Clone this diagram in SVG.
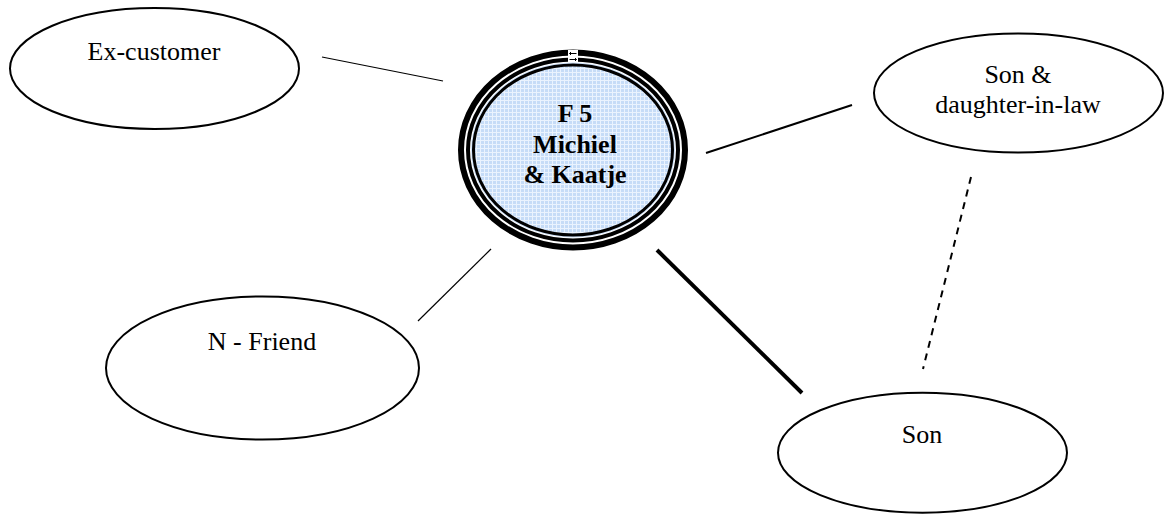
<svg xmlns="http://www.w3.org/2000/svg" width="1173" height="516" viewBox="0 0 1173 516">
  <defs>
    <!-- fine light-blue grid used as the fill of the central family node -->
    <pattern id="grid" width="4" height="4" patternUnits="userSpaceOnUse">
      <rect width="4" height="4" fill="#c6dcf7"/>
      <path d="M0 0.5H4M0.5 0V4" stroke="#eaf3fe" stroke-width="1"/>
    </pattern>
  </defs>
  <style>
    .oval { fill: #ffffff; stroke: #000000; stroke-width: 2; }
    .label { font-family: "Liberation Serif", "Times New Roman", serif; font-size: 26px; fill: #000000; text-anchor: middle; }
    .bold { font-weight: bold; }
    .link { stroke: #000000; fill: none; stroke-linecap: butt; }
  </style>
  <rect width="1173" height="516" fill="#ffffff"/>

  <!-- connectors -->
  <g id="connectors">
    <line class="link" x1="322" y1="57" x2="443" y2="81" stroke-width="1.2"/>
    <line class="link" x1="706" y1="153" x2="852" y2="105" stroke-width="2"/>
    <line class="link" x1="491" y1="249" x2="418" y2="321" stroke-width="1.2"/>
    <line class="link" x1="657" y1="250" x2="802" y2="393" stroke-width="4"/>
    <line class="link" x1="971" y1="177" x2="923" y2="369" stroke-width="2" stroke-dasharray="7 6"/>
  </g>

  <!-- central family node -->
  <g id="family-f5">
    <ellipse cx="573" cy="150" rx="112" ry="97.5" fill="#ffffff" stroke="#000" stroke-width="6"/>
    <ellipse cx="573" cy="150" rx="105" ry="90.5" fill="#ffffff" stroke="#000" stroke-width="4"/>
    <ellipse cx="573" cy="150" rx="102" ry="87.5" fill="#cfe2f9" stroke="none"/>
    <ellipse cx="573" cy="150" rx="99.5" ry="85" fill="url(#grid)" stroke="#000" stroke-width="3"/>
    <!-- small handle mark on top of the rings -->
    <rect x="568" y="50" width="10" height="12" fill="#ffffff"/>
    <path d="M569.5 53.5h7M569.5 59.5h7M571 52l-1.5 1.5 1.5 1.5M575 58l1.5 1.5-1.5 1.5" stroke="#000" stroke-width="1" fill="none"/>
    <text class="label bold" x="575" y="122">F 5</text>
    <text class="label bold" x="575" y="153">Michiel</text>
    <text class="label bold" x="575" y="183">&amp; Kaatje</text>
  </g>

  <g id="ex-customer">
    <ellipse class="oval" cx="154.5" cy="68.5" rx="144.5" ry="60.5"/>
    <text class="label" x="154" y="60">Ex-customer</text>
  </g>

  <g id="son-daughter-in-law">
    <ellipse class="oval" cx="1018.5" cy="93" rx="144.5" ry="59.5"/>
    <text class="label" x="1018" y="83">Son &amp;</text>
    <text class="label" x="1018" y="113">daughter-in-law</text>
  </g>

  <g id="n-friend">
    <ellipse class="oval" cx="262.5" cy="368" rx="156.5" ry="71.5"/>
    <text class="label" x="262" y="350">N - Friend</text>
  </g>

  <g id="son">
    <ellipse class="oval" cx="922.5" cy="452.7" rx="144.5" ry="60"/>
    <text class="label" x="922" y="443">Son</text>
  </g>
</svg>
